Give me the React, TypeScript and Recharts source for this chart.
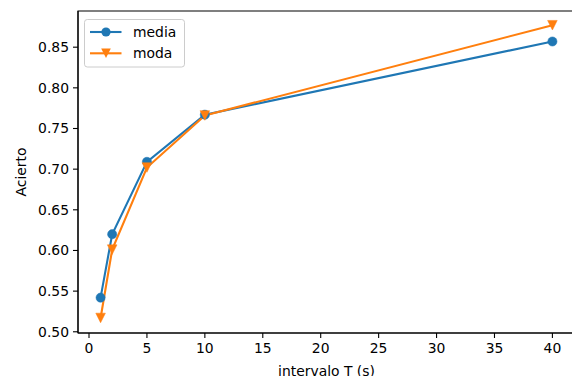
import React from 'react';
import {
  LineChart,
  Line,
  XAxis,
  YAxis,
  Legend,
  ReferenceArea,
  Label,
} from 'recharts';

const intervals = [1, 2, 5, 10, 40];
const mediaValues = [0.542, 0.62, 0.709, 0.767, 0.857];
const modaValues = [0.517, 0.601, 0.702, 0.766, 0.877];
const xTicks = [0, 5, 10, 15, 20, 25, 30, 35, 40];
const yTicks = [0.5, 0.55, 0.6, 0.65, 0.7, 0.75, 0.8, 0.85];

const data = intervals.map((t, i) => ({
  t,
  media: mediaValues[i],
  moda: modaValues[i],
}));

const BLUE = '#1f77b4';
const ORANGE = '#ff7f0e';
const FONT = '"DejaVu Sans", sans-serif';
const X_DOMAIN: [number, number] = [-0.95, 41.95];
const Y_DOMAIN: [number, number] = [0.4985, 0.8945];

// matplotlib 'v' marker
const triangle = (cx: number, cy: number, r: number) =>
  `M${cx - r},${cy - r} L${cx + r},${cy - r} L${cx},${cy + r} Z`;

const CircleDot = (props: any) => {
  const { cx, cy, index } = props;
  if (cx == null || cy == null) return null;
  return <circle key={`c-${index}`} cx={cx} cy={cy} r={4.6} fill={BLUE} stroke={BLUE} strokeWidth={0.5} />;
};

const TriangleDot = (props: any) => {
  const { cx, cy, index } = props;
  if (cx == null || cy == null) return null;
  return <path key={`t-${index}`} d={triangle(cx, cy, 4.8)} fill={ORANGE} stroke={ORANGE} strokeWidth={0.5} />;
};

const LegendBox = () => (
  <svg width={102} height={50} style={{ display: 'block' }}>
    <rect x={0.5} y={0.5} width={100} height={47.5} rx={2.8}
      fill="#fff" fillOpacity={0.8} stroke="#cccccc" />
    <line x1={6} x2={37.5} y1={13} y2={13} stroke={BLUE} strokeWidth={2.1} />
    <circle cx={22} cy={13} r={4.6} fill={BLUE} />
    <text x={49} y={13} dy="0.36em" fontSize={13.9} fontFamily={FONT} fill="#000">media</text>
    <line x1={6} x2={37.5} y1={34.3} y2={34.3} stroke={ORANGE} strokeWidth={2.1} />
    <path d={triangle(22, 34.3, 4.8)} fill={ORANGE} />
    <text x={49} y={34.3} dy="0.36em" fontSize={13.9} fontFamily={FONT} fill="#000">moda</text>
  </svg>
);

const tickStyle = { fontSize: 13.9, fontFamily: FONT, fill: '#000' };

export default function App() {
  return (
    <div style={{ position: 'absolute', left: 0, top: 0, width: 572, height: 376, overflow: 'hidden', background: '#fff' }}>
      <LineChart width={575} height={376} data={data}
        margin={{ top: 11, right: 0, bottom: 0, left: 0 }}>
        <XAxis dataKey="t" type="number" domain={X_DOMAIN} ticks={xTicks}
          allowDataOverflow height={43} tick={tickStyle} tickSize={5} tickMargin={5}
          stroke="#000" strokeWidth={1.1} interval={0}>
          <Label value="intervalo T (s)" position="insideBottom" offset={0}
            style={{ fontSize: 13.9, fontFamily: FONT, fill: '#000' }} />
        </XAxis>
        <YAxis type="number" domain={Y_DOMAIN} ticks={yTicks} allowDataOverflow
          width={78} tick={tickStyle} tickSize={5} tickMargin={4}
          tickFormatter={(v: number) => v.toFixed(2)} stroke="#000" strokeWidth={1.1}
          interval={0}>
          <Label content={() => (
            <text x={20.7} y={172} transform="rotate(-90 20.7 172)" textAnchor="middle"
              dy="0.36em" fontSize={13.9} fontFamily={FONT} fill="#000">Acierto</text>
          )} />
        </YAxis>
        <ReferenceArea x1={X_DOMAIN[0]} x2={X_DOMAIN[1]} y1={Y_DOMAIN[0]} y2={Y_DOMAIN[1]}
          fill="none" fillOpacity={0} stroke="#000" strokeWidth={1.1} strokeOpacity={1} />
        <Line dataKey="media" stroke={BLUE} strokeWidth={2.1} dot={CircleDot}
          activeDot={false} isAnimationActive={false} />
        <Line dataKey="moda" stroke={ORANGE} strokeWidth={2.1} dot={TriangleDot}
          activeDot={false} isAnimationActive={false} />
        <Legend layout="horizontal" verticalAlign="middle" align="center"
          wrapperStyle={{ position: 'absolute', left: 84, top: 18.5, width: 'auto', height: 'auto' }}
          content={() => <LegendBox />} />
      </LineChart>
    </div>
  );
}
